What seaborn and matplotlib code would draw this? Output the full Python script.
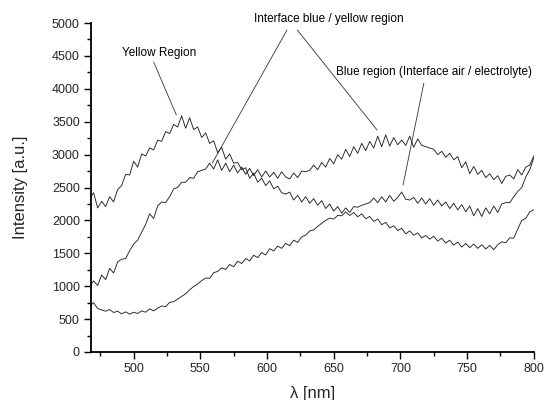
import matplotlib
matplotlib.use("Agg")
import matplotlib.pyplot as plt
import seaborn as sns
import pandas as pd
from matplotlib.ticker import MultipleLocator

# wavelength grid (nm)
wavelength = list(range(467, 801, 3))

yellow_region = [
    2330, 2420, 2190, 2290, 2210, 2360, 2280, 2470, 2530, 2700, 2690, 2900,
    2810, 3010, 2980, 3100, 3070, 3220, 3200, 3350, 3320, 3460, 3420, 3590,
    3400, 3560, 3380, 3420, 3260, 3330, 3170, 3210, 3030, 3110, 2930, 3010,
    2870, 2880, 2770, 2800, 2640, 2720, 2580, 2640, 2530, 2600, 2480, 2520,
    2420, 2400, 2430, 2310, 2380, 2280, 2360, 2260, 2330, 2230, 2300, 2180,
    2250, 2140, 2210, 2110, 2190, 2120, 2210, 2200, 2230, 2250, 2270, 2340,
    2270, 2360, 2280, 2380, 2290, 2350, 2430, 2320, 2310, 2350, 2260, 2340,
    2250, 2330, 2230, 2310, 2220, 2280, 2180, 2260, 2160, 2240, 2130, 2220,
    2070, 2180, 2060, 2190, 2100, 2220, 2120, 2250, 2270, 2270, 2360, 2440,
    2500, 2660, 2770, 2950,
]

interface_region = [
    1000, 1080, 1010, 1170, 1100, 1270, 1200, 1370, 1410, 1420, 1540, 1640,
    1700, 1820, 1940, 2100, 2030, 2220, 2280, 2270, 2360, 2480, 2500, 2580,
    2580, 2650, 2640, 2740, 2760, 2780, 2870, 2780, 2920, 2760, 2870, 2740,
    2840, 2720, 2810, 2700, 2790, 2680, 2770, 2660, 2750, 2660, 2730, 2640,
    2740, 2660, 2630, 2720, 2650, 2750, 2740, 2760, 2840, 2770, 2880, 2810,
    2940, 2860, 3000, 2930, 3080, 2970, 3120, 3020, 3170, 3060, 3200, 3100,
    3280, 3120, 3300, 3130, 3260, 3150, 3220, 3140, 3280, 3110, 3240, 3140,
    3120, 3100, 3080, 3000, 3050, 2960, 3020, 2920, 2970, 2800, 2890, 2710,
    2820, 2700, 2760, 2650, 2710, 2620, 2680, 2560, 2670, 2690, 2630, 2770,
    2690, 2810, 2840, 2980,
]

blue_region = [
    690, 750, 660, 640, 620, 645, 600, 620, 580, 610, 575, 605,
    585, 625, 605, 655, 625, 665, 700, 690, 755, 765, 805, 845,
    885, 945, 995, 1035, 1085, 1125, 1120, 1205, 1225, 1280, 1255, 1330,
    1295, 1380, 1345, 1420, 1385, 1470, 1435, 1510, 1475, 1570, 1535, 1610,
    1575, 1650, 1615, 1700, 1665, 1750, 1775, 1840, 1855, 1910, 1955, 2000,
    2035, 2020, 2075, 2070, 2130, 2075, 2120, 2055, 2100, 2025, 2060, 1985,
    2020, 1935, 1970, 1885, 1920, 1845, 1880, 1795, 1840, 1775, 1810, 1735,
    1770, 1715, 1760, 1685, 1730, 1655, 1700, 1625, 1670, 1595, 1650, 1585,
    1640, 1575, 1630, 1565, 1620, 1555, 1630, 1675, 1660, 1735, 1730, 1870,
    2000, 2030, 2130, 2160,
]

series_names = ["Yellow Region", "Interface blue / yellow region",
                "Blue region (Interface air / electrolyte)"]

frames = []
for name, vals in zip(series_names, [yellow_region, interface_region, blue_region]):
    frames.append(pd.DataFrame({"wavelength": wavelength, "intensity": vals, "series": name}))
df = pd.concat(frames, ignore_index=True)

sns.set_style("ticks")
plt.rcParams["font.family"] = ["Liberation Sans", "DejaVu Sans"]

fig = plt.figure(figsize=(5.48, 4.0), dpi=100)
ax = fig.add_axes([0.166, 0.12, 0.808, 0.8225])

sns.lineplot(data=df, x="wavelength", y="intensity", units="series",
             estimator=None, color="#222222", linewidth=0.65, ax=ax, legend=False)

ax.set_xlim(468, 800)
ax.set_ylim(0, 5000)
ax.xaxis.set_major_locator(MultipleLocator(50))
ax.xaxis.set_minor_locator(MultipleLocator(25))
ax.yaxis.set_major_locator(MultipleLocator(500))
ax.yaxis.set_minor_locator(MultipleLocator(250))
ax.tick_params(which="major", length=5, width=1.0, labelsize=9, pad=3, color="black")
ax.tick_params(which="minor", length=3, width=1.0, color="black")
for s in ["top", "right"]:
    ax.spines[s].set_visible(False)
for s in ["left", "bottom"]:
    ax.spines[s].set_linewidth(1.3)
    ax.spines[s].set_color("black")

ax.set_xlabel("λ [nm]", fontsize=12)
ax.set_ylabel("Intensity [a.u.]", fontsize=12)
ax.xaxis.set_label_coords(0.5, -0.103)
ax.yaxis.set_label_coords(-0.142, 0.5)

# annotations
txt_kw = dict(fontsize=8.5, ha="center", va="center", color="black")
line_kw = dict(arrowstyle="-", color="#333333", lw=0.6, shrinkA=0, shrinkB=0)

ax.text(519.4, 4544, "Yellow Region", **txt_kw)
ax.annotate("", xy=(532, 3602), xytext=(515, 4407), arrowprops=line_kw)

ax.text(646.6, 5061, "Interface blue / yellow region", clip_on=False, **txt_kw)
ax.annotate("", xy=(559, 2872), xytext=(615, 4894), arrowprops=line_kw, annotation_clip=False)
ax.annotate("", xy=(682.5, 3374), xytext=(622.7, 4894), arrowprops=line_kw, annotation_clip=False)

ax.text(725.5, 4255, "Blue region (Interface air / electrolyte)", **txt_kw)
ax.annotate("", xy=(702, 2538), xytext=(717.6, 4088), arrowprops=line_kw)

fig.savefig("out.png", dpi=100)
